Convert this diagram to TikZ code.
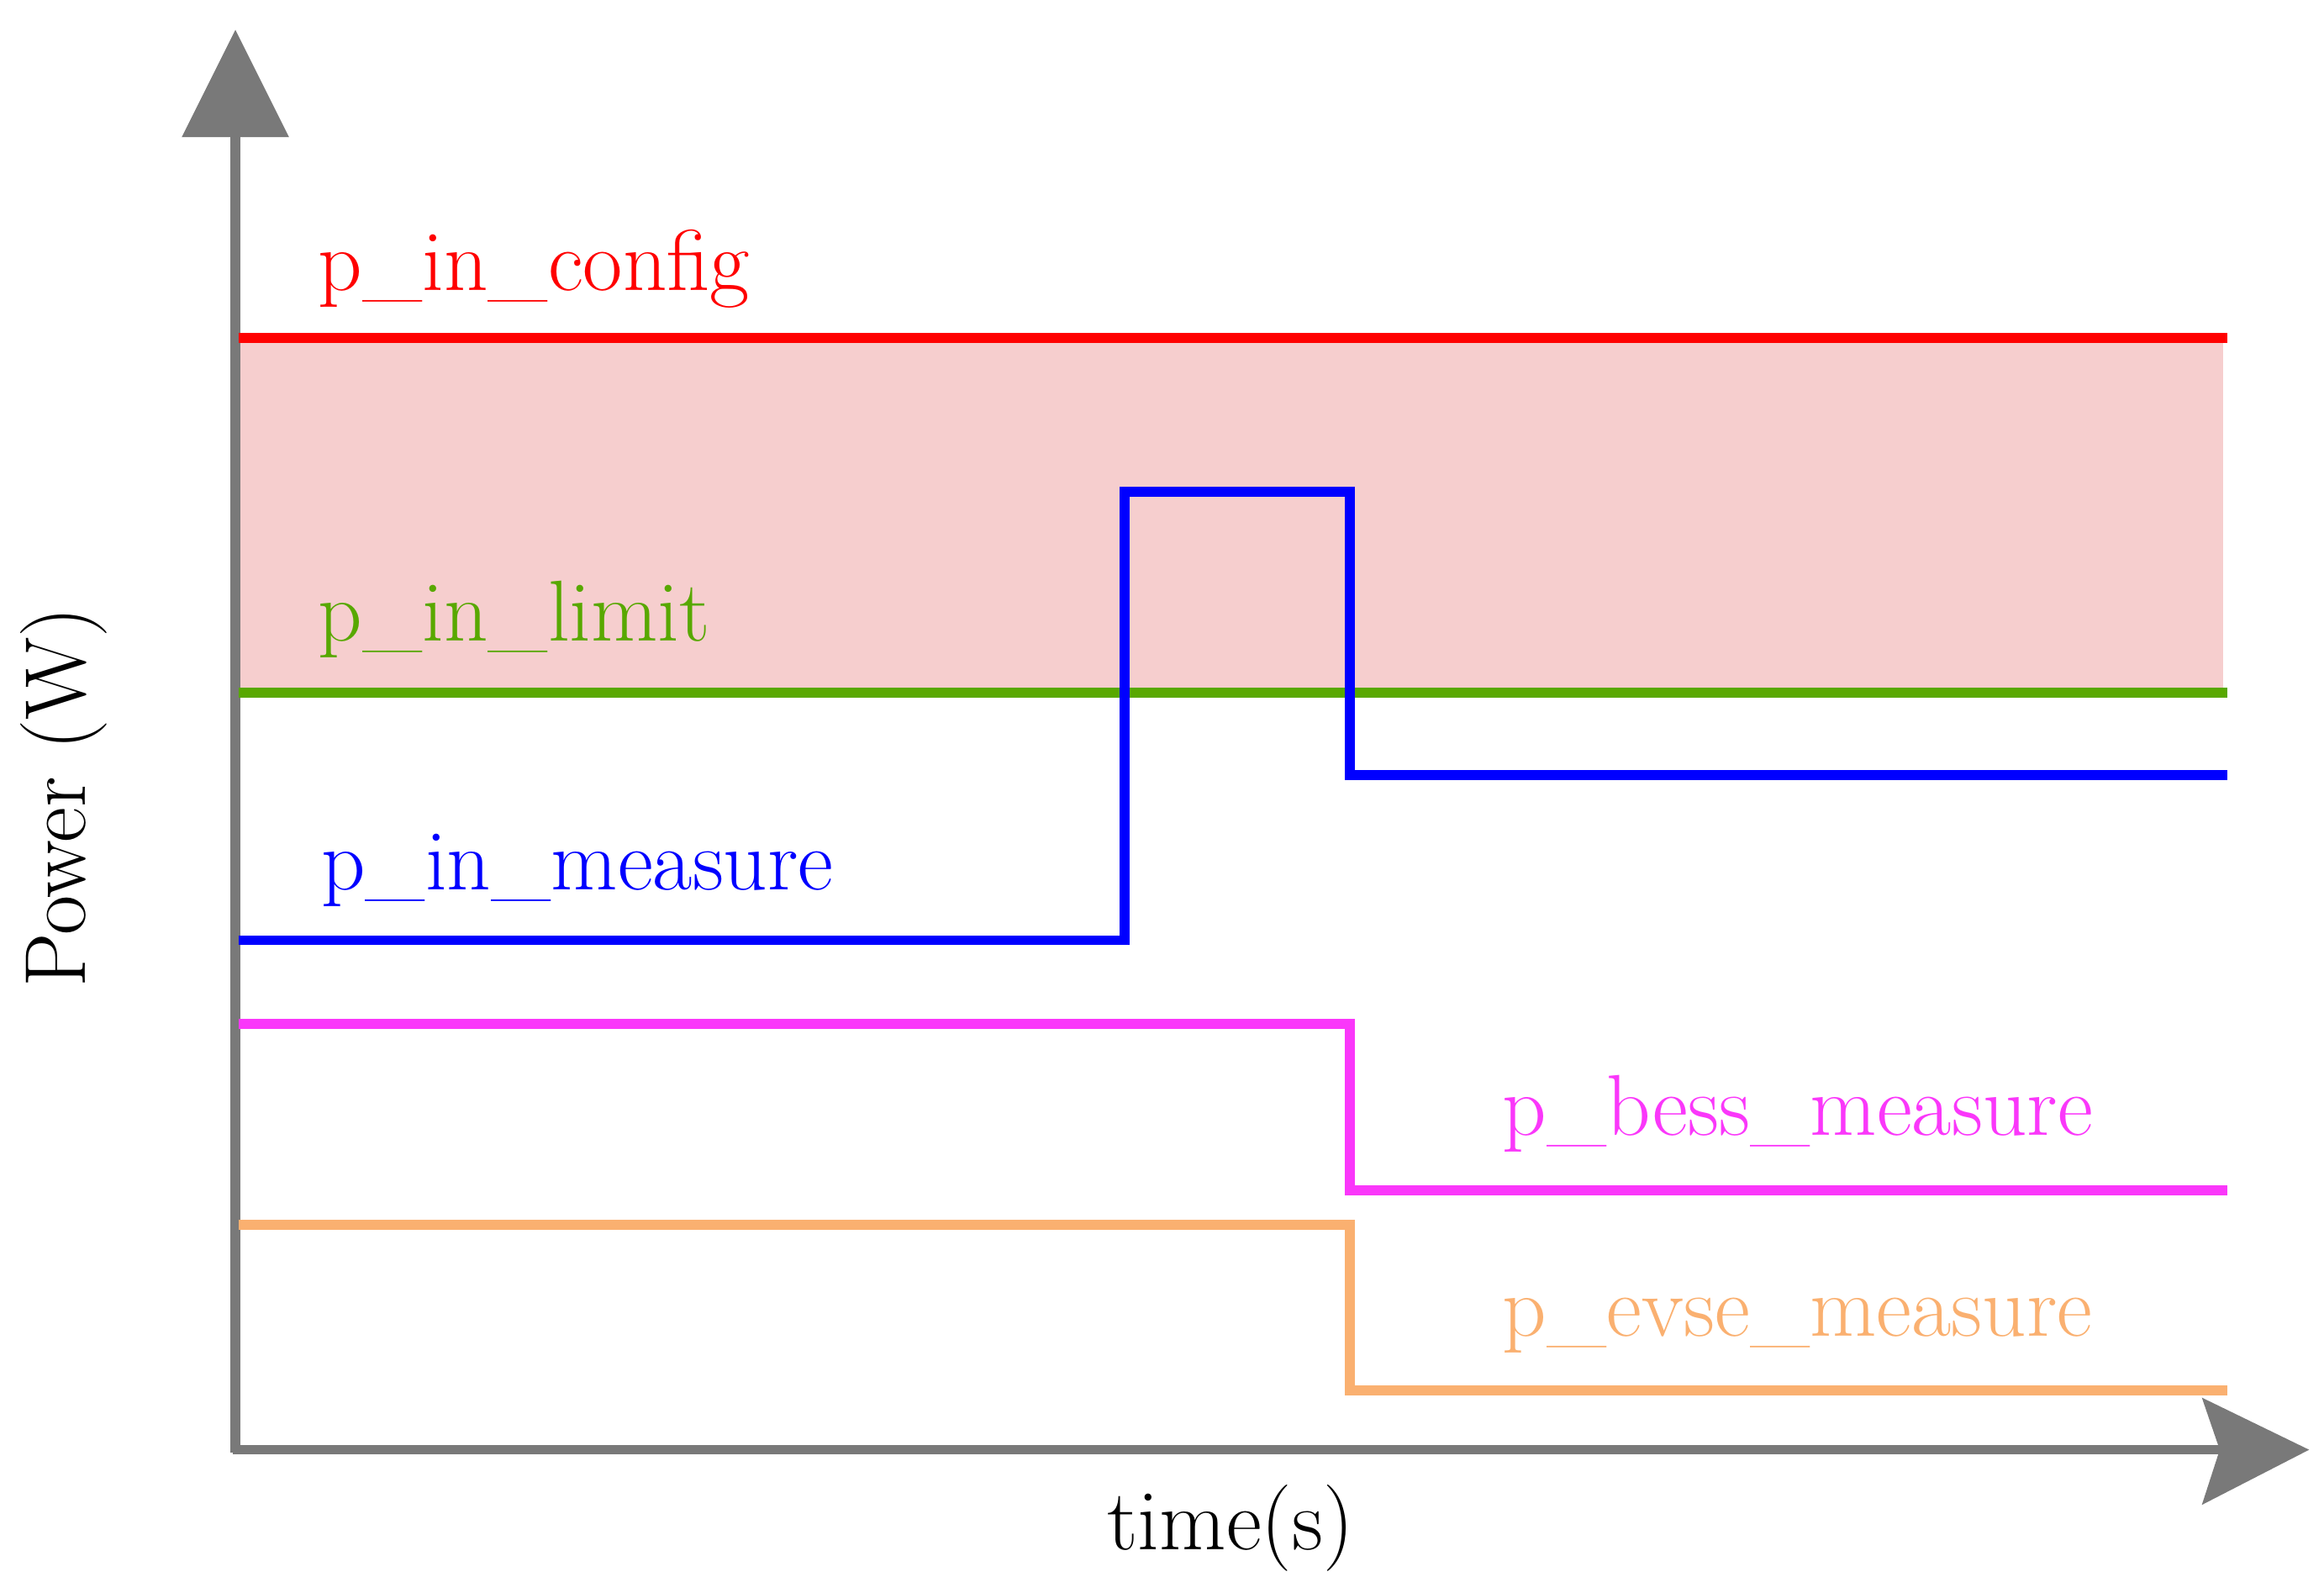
\documentclass[tikz,border=0pt]{standalone}
\begin{document}
\begin{tikzpicture}[x=0.01cm,y=-0.01cm,
  sig/.style={line width=1.9pt},
  ax/.style={draw=gray!95!black,line width=1.8pt},
  tip/.style={fill=gray!95!black},
  lab/.style={anchor=base west,inner sep=0pt,font=\fontsize{16.5}{19}\selectfont}]
\useasboundingbox (0,0) rectangle (1560,1069);
\definecolor{pinkf}{RGB}{246,206,206}
\definecolor{gr}{RGB}{88,168,0}
\definecolor{mg}{RGB}{250,55,250}
\definecolor{og}{RGB}{250,176,112}
\fill[pinkf] (160,228) rectangle (1492,465);
\draw[ax] (158,975) -- (158,80);
\draw[ax] (156,973) -- (1490,973);
\fill[tip] (158,20) -- (194,92) -- (122,92) -- cycle;
\fill[tip] (1550,973) -- (1478,1010) -- (1490,973) -- (1478,938) -- cycle;
\draw[sig,red] (160,227) -- (1495,227);
\draw[sig,gr] (160,465) -- (1495,465);
\draw[sig,blue] (160,631) -- (755,631) -- (755,330) -- (906,330) -- (906,520) -- (1495,520);
\draw[sig,mg] (160,687) -- (906,687) -- (906,799) -- (1495,799);
\draw[sig,og] (160,822) -- (906,822) -- (906,933) -- (1495,933);
\node[lab,red] (l1) at (213,195) {p\_in\_config};
\node[lab,gr] (l2) at (213,430) {p\_in\_limit};
\node[lab,blue] (l3) at (215,597) {p\_in\_measure};
\node[lab,mg] (l4) at (1008,762) {p\_bess\_measure};
\node[lab,og] (l5) at (1008,897) {p\_evse\_measure};
\node[inner sep=0pt,anchor=base,font=\fontsize{16.5}{19}\selectfont] (tx) at (826,1040) {time(s)};
\node[inner sep=0pt,anchor=base,rotate=90,font=\fontsize{16.5}{19}\selectfont] (ty) at (57,535) {Power (W)};
\end{tikzpicture}
\end{document}
